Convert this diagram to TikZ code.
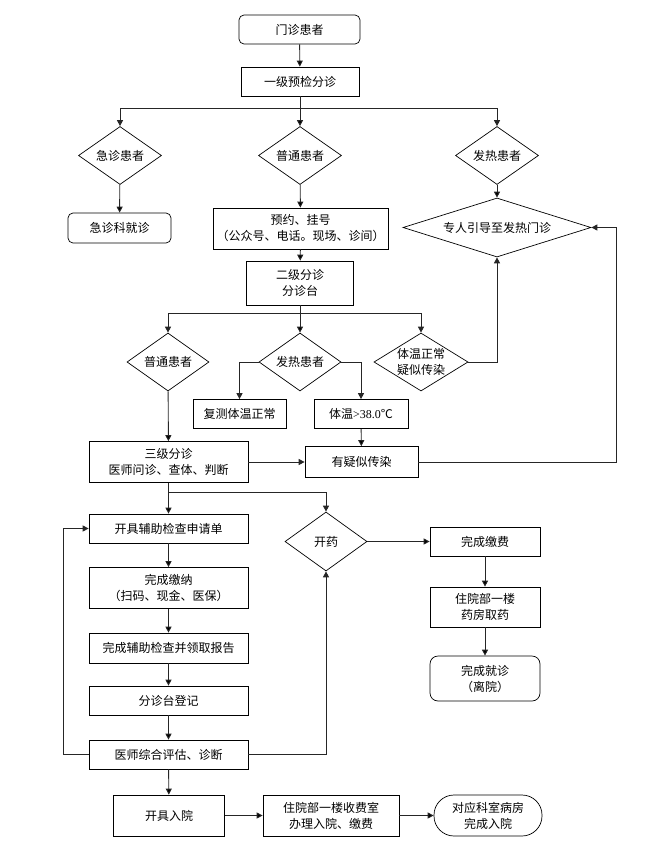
\documentclass[tikz,border=0pt]{standalone}
\usepackage{fontspec}
\setmainfont{Noto Sans CJK SC}
\newfontfamily\numfont{Liberation Serif}
\usetikzlibrary{shapes.geometric,arrows.meta}

\begin{document}
\begin{tikzpicture}[x=1pt, y=-1pt, >={Triangle[length=6pt,width=6pt]},
  every node/.style={font=\fontsize{12}{16}\selectfont, align=center, inner sep=0pt},
  box/.style={rectangle, draw, line width=0.7pt},
  rbox/.style={rectangle, rounded corners=5pt, draw, line width=0.7pt},
  dia/.style={diamond, draw, line width=0.7pt, aspect=1.4},
  link/.style={draw=black!85, line width=0.9pt}]
\useasboundingbox (0,0) rectangle (648,851);

\node (MZ) at (299.5, 29.5) [rbox, minimum width=121pt, minimum height=29pt] {门诊患者};
\node (YJ) at (300, 81.5) [box, minimum width=118pt, minimum height=29pt] {一级预检分诊};

\node (JZ) at (120, 155.5) [dia, minimum width=83pt, minimum height=58pt] {急诊患者};
\node (PT) at (300, 155.5) [dia, minimum width=83pt, minimum height=58pt] {普通患者};
\node (FR) at (497, 155.5) [dia, minimum width=83pt, minimum height=58pt] {发热患者};

\node (JZK) at (119.5, 228) [rbox, minimum width=103pt, minimum height=30pt] {急诊科就诊};
\node (YY) at (300.5, 228.5) [box, minimum width=175pt, minimum height=41pt] {预约、挂号\\（公众号、电话。现场、诊间）};
\node (ZR) at (497, 227.5) [dia, aspect=3.2, minimum width=188pt, minimum height=59pt] {专人引导至发热门诊};

\node (EJ) at (300, 283) [box, minimum width=107pt, minimum height=44pt] {二级分诊\\分诊台};

\node (PT2) at (168, 362) [dia, minimum width=82pt, minimum height=58pt] {普通患者};
\node (FR2) at (300, 362) [dia, minimum width=82pt, minimum height=58pt] {发热患者};
\node (TW) at (421, 362) [dia, aspect=1.7, minimum width=82pt, minimum height=58pt] {体温正常\\疑似传染};

\node (FC) at (239.5, 414) [box, minimum width=93pt, minimum height=29pt] {复测体温正常};
\node (GR) at (361, 414) [box, minimum width=94pt, minimum height=29pt] {体温{\numfont >38.0}℃};

\node (SJ) at (168.5, 462) [box, minimum width=159pt, minimum height=41pt] {三级分诊\\医师问诊、查体、判断};
\node (YS) at (361.5, 462) [box, minimum width=113pt, minimum height=31pt] {有疑似传染};

\node (KJ) at (168.5, 528.5) [box, minimum width=159pt, minimum height=29pt] {开具辅助检查申请单};
\node (WJ) at (168.5, 588) [box, minimum width=159pt, minimum height=41pt] {完成缴纳\\（扫码、现金、医保）};
\node (WF) at (168.5, 648) [box, minimum width=159pt, minimum height=30pt] {完成辅助检查并领取报告};
\node (FZ) at (168.5, 700.5) [box, minimum width=159pt, minimum height=29pt] {分诊台登记};
\node (YSZ) at (168.5, 754.5) [box, minimum width=159pt, minimum height=29pt] {医师综合评估、诊断};

\node (KY) at (326, 541.5) [dia, minimum width=82pt, minimum height=59pt] {开药};
\node (WCJ) at (485, 541.5) [box, minimum width=110pt, minimum height=29pt] {完成缴费};
\node (YF) at (485, 607) [box, minimum width=110pt, minimum height=40pt] {住院部一楼\\药房取药};
\node (WJZ) at (485, 678.5) [rbox, rounded corners=8pt, minimum width=110pt, minimum height=45pt] {完成就诊\\（离院）};

\node (KR) at (169, 815.5) [box, minimum width=111pt, minimum height=41pt] {开具入院};
\node (SF) at (331, 815.5) [box, minimum width=136pt, minimum height=41pt] {住院部一楼收费室\\办理入院、缴费};
\node (BF) at (488, 815.5) [rbox, rounded corners=20pt, minimum width=108pt, minimum height=41pt] {对应科室病房\\完成入院};

\coordinate (B1) at (300, 108);
\coordinate (B2) at (300, 313);
\coordinate (B3) at (168.5, 492);
\coordinate (R1) at (616, 462);
\coordinate (L1) at (63, 754.5);

\draw[link] (MZ) edge [->] (YJ);
\draw[link] (YJ) edge [->] (PT);
\draw[link, ->] (B1) -| (JZ.north);
\draw[link, ->] (B1) -| (FR.north);
\draw[link] (JZ) edge [->] (JZK);
\draw[link] (PT) edge [->] (YY);
\draw[link] (FR) edge [->] (ZR);
\draw[link] (YY) edge [->] (EJ);

\draw[link] (EJ) edge [->] (FR2);
\draw[link, ->] (B2) -| (PT2.north);
\draw[link, ->] (B2) -| (TW.north);
\draw[link, ->] (FR2.west) -| (FC.north);
\draw[link, ->] (FR2.east) -| (GR.north);
\draw[link, ->] (TW.east) -| (ZR.south);
\draw[link] (PT2) edge [->] (SJ);
\draw[link] (GR) edge [->] (YS);
\draw[link, ->] (SJ.east |- YS.west) -- (YS.west);
\draw[link, ->] (YS.east) -- (R1) |- (ZR.east);

\draw[link] (SJ) edge [->] (KJ);
\draw[link, ->] (B3) -| (KY.north);
\draw[link] (KJ) edge [->] (WJ);
\draw[link] (WJ) edge [->] (WF);
\draw[link] (WF) edge [->] (FZ);
\draw[link] (FZ) edge [->] (YSZ);
\draw[link] (YSZ) edge [->] (KR);
\draw[link, ->] (YSZ.west) -- (L1) |- (KJ.west);
\draw[link, ->] (YSZ.east) -| (KY.south);

\draw[link] (KY) edge [->] (WCJ);
\draw[link] (WCJ) edge [->] (YF);
\draw[link] (YF) edge [->] (WJZ);

\draw[link] (KR) edge [->] (SF);
\draw[link] (SF) edge [->] (BF);
\end{tikzpicture}
\end{document}
